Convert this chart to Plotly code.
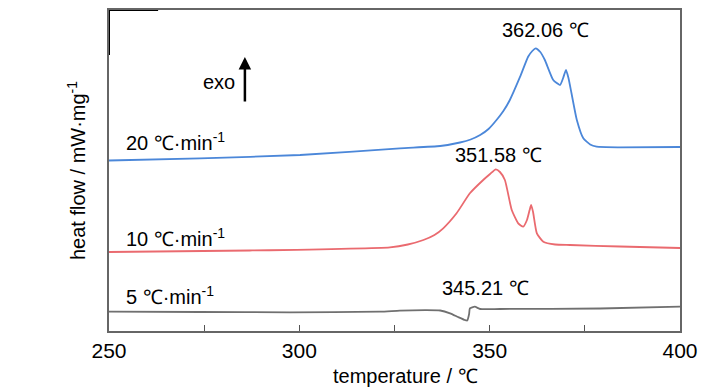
import plotly.graph_objects as go

# ---- data ----
t_20 = [250.0, 273.9, 300.2, 326.4, 337.0, 342.2, 345.0, 347.5, 349.7, 351.8, 353.6, 355.3, 358.0, 360.1, 361.2, 362.1,
        363.3, 364.5, 366.7, 368.5, 369.3, 370.05, 370.7, 371.5, 372.9, 374.6, 376.4, 378.1, 384.2, 400.0]
hf_20 = [1.705, 1.727, 1.76, 1.827, 1.85, 1.885, 1.915, 1.96, 2.02, 2.11, 2.20, 2.31, 2.543, 2.743, 2.80, 2.827,
         2.79, 2.71, 2.51, 2.46, 2.53, 2.61, 2.53, 2.377, 2.11, 1.927, 1.865, 1.843, 1.837, 1.84]

t_10 = [250.0, 287.0, 323.8, 328.5, 332.6, 335.5, 337.8, 341.3, 344.8, 348.3, 350.1, 351.6, 352.7, 354.0,
        355.8, 357.5, 358.8, 359.8, 360.5, 360.9, 361.4, 362.4, 364.1, 367.2, 371.1, 384.2, 400.0]
hf_10 = [0.79, 0.805, 0.837, 0.865, 0.91, 0.96, 1.027, 1.177, 1.377, 1.51, 1.57, 1.617, 1.59, 1.51,
         1.21, 1.077, 1.043, 1.11, 1.21, 1.26, 1.19, 0.977, 0.893, 0.865, 0.86, 0.845, 0.83]

t_5 = [250.0, 273.9, 297.5, 321.2, 326.4, 333.0, 337.0, 339.6, 341.7, 343.5, 344.1, 344.6, 344.8,
       346.1, 347.5, 352.7, 379.0, 400.0]
hf_5 = [0.193, 0.19, 0.187, 0.193, 0.203, 0.208, 0.205, 0.177, 0.14, 0.11, 0.105, 0.17, 0.227,
        0.243, 0.22, 0.22, 0.225, 0.243]

x_tickvals = [250, 275, 300, 325, 350, 375, 400]
x_ticktext = ["250", "", "300", "", "350", "", "400"]

peak_labels = ["362.06 ℃", "351.58 ℃", "345.21 ℃"]
rate_labels = ["20 ℃·min<sup>-1</sup>", "10 ℃·min<sup>-1</sup>", "5 ℃·min<sup>-1</sup>"]
x_title = "temperature / ℃"
y_title = "heat flow / mW·mg<sup>-1</sup>"

FONT = "Liberation Sans, Arial, sans-serif"

fig = go.Figure()
fig.add_trace(go.Scatter(x=t_5, y=hf_5, mode="lines", line=dict(color="#707070", width=1.8, shape="spline", smoothing=0.5)))
fig.add_trace(go.Scatter(x=t_10, y=hf_10, mode="lines", line=dict(color="#ea6a6f", width=1.8, shape="spline", smoothing=0.5)))
fig.add_trace(go.Scatter(x=t_20, y=hf_20, mode="lines", line=dict(color="#4b87d9", width=1.8, shape="spline", smoothing=0.5)))

anns = []
anns.append(dict(x=364.6, y=3.01, text=peak_labels[0], showarrow=False, xanchor="center", yanchor="middle"))
anns.append(dict(x=352.3, y=1.76, text=peak_labels[1], showarrow=False, xanchor="center", yanchor="middle"))
anns.append(dict(x=349.0, y=0.43, text=peak_labels[2], showarrow=False, xanchor="center", yanchor="middle"))
anns.append(dict(x=254.0, y=1.90, text=rate_labels[0], showarrow=False, xanchor="left", yanchor="middle"))
anns.append(dict(x=254.0, y=0.94, text=rate_labels[1], showarrow=False, xanchor="left", yanchor="middle"))
anns.append(dict(x=254.0, y=0.36, text=rate_labels[2], showarrow=False, xanchor="left", yanchor="middle"))
anns.append(dict(x=283.7, y=2.49, text="exo", showarrow=False, xanchor="right", yanchor="middle"))
anns.append(dict(x=285.7, y=2.74, ax=0, ay=46, text="", showarrow=True, arrowhead=2,
                 arrowsize=1.0, arrowwidth=2.5, arrowcolor="black", axref="pixel", ayref="pixel"))
anns.append(dict(xref="paper", yref="paper", x=0.52, y=-0.14, text=x_title, showarrow=False,
                 xanchor="center", yanchor="middle", font=dict(size=20)))

# page body adds an 8px offset; margins compensate so the frame sits at x 109..680, y 10..331
fig.update_layout(
    width=728, height=390,
    margin=dict(l=101, r=56, t=2, b=67, autoexpand=False),
    paper_bgcolor="white", plot_bgcolor="white",
    showlegend=False,
    font=dict(family=FONT, size=20, color="black"),
    annotations=anns,
)
fig.update_xaxes(
    range=[250, 400], tickvals=x_tickvals, ticktext=x_ticktext,
    ticks="inside", ticklen=6, tickwidth=1.2, tickcolor="#555",
    showline=True, linecolor="#666", linewidth=1.5, mirror=True,
    showgrid=False, zeroline=False, automargin=False,
    tickfont=dict(size=21),
)
fig.update_yaxes(
    range=[0, 3.21], showticklabels=False, ticks="",
    showline=True, linecolor="#666", linewidth=1.5, mirror=True,
    showgrid=False, zeroline=False, automargin=False,
    title=dict(text=y_title, standoff=16, font=dict(size=20)),
)
# dark corner on top-left of the frame
fig.add_shape(type="line", xref="x", yref="y", x0=250, y0=3.21, x1=262.9, y1=3.21, line=dict(color="black", width=2))
fig.add_shape(type="line", xref="x", yref="y", x0=250, y0=3.21, x1=250, y1=2.76, line=dict(color="black", width=2))

fig.write_html("out.html")
